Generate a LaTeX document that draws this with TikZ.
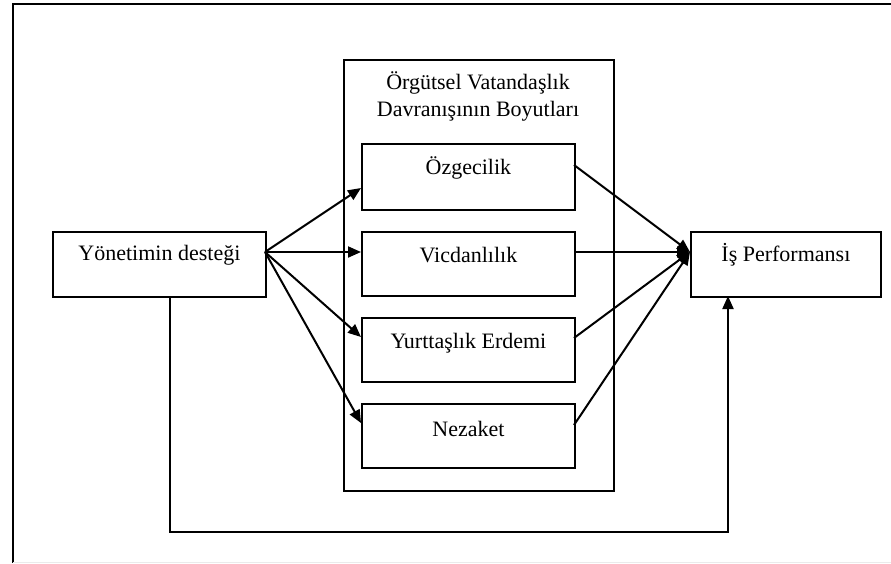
\documentclass[tikz,border=0pt]{standalone}
\usepackage{fontspec}
\setmainfont{Liberation Serif}
\usetikzlibrary{arrows.meta}
\begin{document}
\begin{tikzpicture}[x=1pt,y=-1pt,
  box/.style={draw, line width=1.8pt, rectangle, inner sep=0pt},
  lbl/.style={font=\fontsize{22}{27}\selectfont, inner sep=0pt},
  link/.style={line width=2pt, -{Triangle[length=13pt,width=11pt]}}]
\useasboundingbox (0,0) rectangle (891,563);
% outer frame
\draw[line width=2.8pt] (891,4) -- (13,4) -- (13,563);
\draw[line width=0.8pt, black!8] (13,562) -- (891,562);
% group frame
\node[box, line width=1.6pt, minimum width=270pt, minimum height=431pt, anchor=north west] (grp) at (343,59) {};
\node[lbl, align=center] (ttl) at (478,96) {Örgütsel Vatandaşlık\\Davranışının Boyutları};
% boxes
\node[box, minimum width=213pt, minimum height=66pt, anchor=north west] (oz) at (361,143) {};
\node[lbl] at ([yshift=-25pt]oz.north) {Özgecilik};
\node[box, minimum width=213pt, minimum height=64pt, anchor=north west] (vi) at (361,231) {};
\node[lbl] at ([yshift=-24pt]vi.north) {Vicdanlılık};
\node[box, minimum width=213pt, minimum height=64pt, anchor=north west] (yu) at (361,317) {};
\node[lbl] at ([yshift=-26pt]yu.north) {Yurttaşlık Erdemi};
\node[box, minimum width=213pt, minimum height=64pt, anchor=north west] (ne) at (361,403) {};
\node[lbl] at ([yshift=-26pt]ne.north) {Nezaket};
\node[box, minimum width=213pt, minimum height=65pt, anchor=north west] (yo) at (52,231) {};
\node[lbl] at ([yshift=-24pt]yo.north) {Yönetimin desteği};
\node[box, minimum width=190pt, minimum height=65pt, anchor=north west] (is) at (690,231) {};
\node[lbl] at ([yshift=-24pt]is.north) {İş Performansı};
% anchor points on the box edges
\coordinate (src) at (265,252);
\coordinate (dst) at (690,252);
% left fan
\draw[link] (src) -- (361,188);
\draw[link] (src) -- (361,252);
\draw[link] (src) -- (361,337);
\draw[link] (src) -- (361,423);
% right fan
\draw[link] (574,165) -- (dst);
\draw[link] (574,252) -- (dst);
\draw[link] (574,338) -- (dst);
\draw[link] (574,425) -- (dst);
% direct path
\coordinate (c1) at (170,532);
\coordinate (c2) at (728,532);
\draw[link] (170,296) -- (c1) -- (c2) -- (728,296);
\end{tikzpicture}
\end{document}
